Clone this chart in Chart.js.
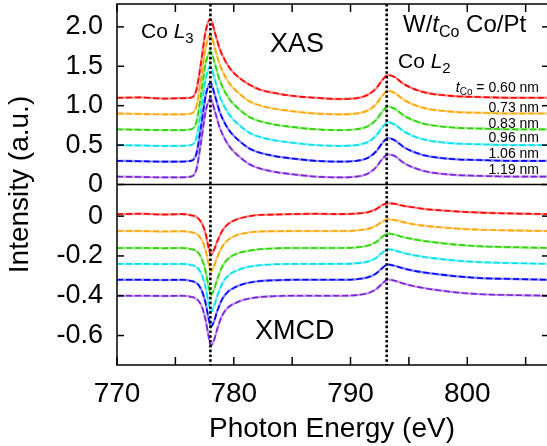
<!DOCTYPE html>
<html><head><meta charset="utf-8">
<script src="https://cdn.jsdelivr.net/npm/chart.js@4.4.0/dist/chart.umd.min.js"></script>
<style>html,body{margin:0;padding:0;overflow:hidden;background:#fff}#wrap{position:relative;width:549px;height:446px}</style>
</head><body><div id="wrap"><canvas id="c"></canvas></div>
<script>
// ---- data ----
const energyXAS = [770, 772, 774, 775.5, 776.3, 776.8, 777.2, 777.6, 778.0, 778.4, 778.8, 779.3, 779.8, 780.5, 781.3, 782.3, 783.5, 785, 787, 789, 790.5, 791.5, 792.2, 792.7, 793.2, 793.8, 794.5, 795.3, 796.3, 797.5, 799, 801, 804, 807];
const energyXMCD = [770, 772, 774, 775.5, 776.3, 776.9, 777.3, 777.6, 777.85, 778.05, 778.3, 778.6, 779.0, 779.5, 780.2, 781.0, 782.0, 783.5, 785, 787, 789, 790.5, 791.5, 792.2, 792.7, 793.2, 793.8, 794.5, 795.3, 796.3, 797.5, 799, 801, 804, 807];

const thicknessLabels = ['0.60', '0.73', '0.83', '0.96', '1.06', '1.19'];

const xas060 = [1.10, 1.105, 1.09, 1.095, 1.10, 1.20, 1.55, 1.95, 2.10, 1.92, 1.72, 1.56, 1.45, 1.35, 1.27, 1.20, 1.16, 1.125, 1.10, 1.085, 1.095, 1.14, 1.22, 1.32, 1.39, 1.36, 1.28, 1.22, 1.17, 1.14, 1.12, 1.11, 1.10, 1.10];
const xas073 = [0.90, 0.895, 0.89, 0.89, 0.90, 0.99, 1.34, 1.74, 1.90, 1.72, 1.52, 1.36, 1.25, 1.15, 1.06, 1.00, 0.96, 0.93, 0.90, 0.89, 0.90, 0.94, 1.02, 1.12, 1.19, 1.16, 1.08, 1.02, 0.97, 0.94, 0.92, 0.91, 0.90, 0.90];
const xas083 = [0.70, 0.695, 0.69, 0.69, 0.70, 0.79, 1.14, 1.54, 1.69, 1.52, 1.32, 1.16, 1.05, 0.95, 0.86, 0.80, 0.76, 0.73, 0.70, 0.69, 0.70, 0.74, 0.82, 0.92, 0.99, 0.96, 0.88, 0.82, 0.77, 0.74, 0.72, 0.71, 0.70, 0.70];
const xas096 = [0.50, 0.495, 0.49, 0.49, 0.50, 0.59, 0.94, 1.34, 1.50, 1.32, 1.12, 0.96, 0.85, 0.75, 0.66, 0.60, 0.56, 0.53, 0.50, 0.49, 0.50, 0.54, 0.62, 0.72, 0.79, 0.76, 0.68, 0.62, 0.57, 0.54, 0.52, 0.51, 0.50, 0.50];
const xas106 = [0.30, 0.295, 0.29, 0.29, 0.30, 0.39, 0.74, 1.13, 1.29, 1.12, 0.92, 0.76, 0.65, 0.55, 0.46, 0.40, 0.36, 0.33, 0.30, 0.29, 0.30, 0.34, 0.42, 0.52, 0.59, 0.56, 0.48, 0.42, 0.37, 0.34, 0.32, 0.31, 0.30, 0.30];
const xas119 = [0.10, 0.095, 0.09, 0.09, 0.10, 0.19, 0.54, 0.93, 1.09, 0.92, 0.72, 0.56, 0.45, 0.35, 0.26, 0.20, 0.16, 0.13, 0.10, 0.09, 0.10, 0.14, 0.22, 0.32, 0.38, 0.36, 0.28, 0.22, 0.17, 0.14, 0.12, 0.11, 0.10, 0.10];

const xmcd060 = [0.01, 0.012, 0.008, 0.01, 0.005, -0.008, -0.04, -0.09, -0.16, -0.195, -0.17, -0.125, -0.075, -0.04, -0.018, -0.004, 0.005, 0.008, 0.01, 0.012, 0.01, 0.013, 0.02, 0.035, 0.055, 0.065, 0.062, 0.052, 0.045, 0.036, 0.03, 0.024, 0.018, 0.013, 0.01];
const xmcd073 = [-0.075, -0.075, -0.077, -0.076, -0.08, -0.093, -0.125, -0.175, -0.24, -0.275, -0.252, -0.205, -0.155, -0.12, -0.097, -0.085, -0.078, -0.076, -0.075, -0.075, -0.075, -0.072, -0.064, -0.048, -0.028, -0.015, -0.02, -0.03, -0.04, -0.048, -0.055, -0.062, -0.068, -0.072, -0.075];
const xmcd083 = [-0.16, -0.16, -0.161, -0.16, -0.165, -0.18, -0.22, -0.28, -0.355, -0.395, -0.37, -0.315, -0.255, -0.215, -0.19, -0.177, -0.168, -0.162, -0.16, -0.16, -0.16, -0.157, -0.148, -0.13, -0.105, -0.087, -0.093, -0.105, -0.115, -0.125, -0.134, -0.143, -0.151, -0.156, -0.16];
const xmcd096 = [-0.24, -0.24, -0.241, -0.24, -0.245, -0.26, -0.30, -0.36, -0.44, -0.48, -0.455, -0.40, -0.34, -0.30, -0.275, -0.258, -0.248, -0.242, -0.24, -0.24, -0.24, -0.237, -0.228, -0.21, -0.185, -0.166, -0.172, -0.185, -0.195, -0.205, -0.214, -0.223, -0.231, -0.236, -0.24];
const xmcd106 = [-0.32, -0.32, -0.321, -0.32, -0.325, -0.34, -0.38, -0.44, -0.515, -0.556, -0.53, -0.475, -0.418, -0.38, -0.355, -0.338, -0.328, -0.322, -0.32, -0.32, -0.32, -0.317, -0.307, -0.288, -0.262, -0.243, -0.25, -0.262, -0.273, -0.283, -0.292, -0.302, -0.311, -0.316, -0.32];
const xmcd119 = [-0.40, -0.40, -0.401, -0.40, -0.405, -0.42, -0.46, -0.525, -0.605, -0.65, -0.625, -0.565, -0.50, -0.46, -0.435, -0.418, -0.408, -0.402, -0.40, -0.40, -0.40, -0.397, -0.387, -0.367, -0.34, -0.318, -0.325, -0.338, -0.35, -0.362, -0.372, -0.383, -0.392, -0.397, -0.40];

const edgeEnergies = [778.0, 793.1];          // Co L3, L2 dotted lines
const xMinorTicks = [770, 775, 780, 785, 790, 795, 800, 805];
const xTickLabels = [770, 780, 790, 800];
const yTopTicks = [0, 0.5, 1.0, 1.5, 2.0];
const yBotTicks = [0, -0.2, -0.4, -0.6];

const xasSeries = [xas060, xas073, xas083, xas096, xas106, xas119];
const xmcdSeries = [xmcd060, xmcd073, xmcd083, xmcd096, xmcd106, xmcd119];
const seriesColors = ['#ff0000', '#ffa500', '#2ad400', '#00e1f0', '#0000ff', '#7b22d8'];
const seriesLight = ['rgba(255,0,0,0.45)', 'rgba(255,165,0,0.45)', 'rgba(42,212,0,0.45)', 'rgba(0,225,240,0.45)', 'rgba(0,0,255,0.45)', 'rgba(123,34,216,0.45)'];

// ---- build ----
const FONT = "'Liberation Sans', Arial, Helvetica, sans-serif";
const datasets = [];
function pts(xs, ys) { return xs.map((e, k) => ({x: e, y: ys[k]})); }
for (let i = 0; i < 6; i++) {
  const common = {pointRadius: 0, fill: false, cubicInterpolationMode: 'monotone'};
  datasets.push(Object.assign({data: pts(energyXAS, xasSeries[i]), yAxisID: 'yTop', borderColor: seriesLight[i], borderWidth: 2.4, order: 2}, common));
  datasets.push(Object.assign({data: pts(energyXAS, xasSeries[i]), yAxisID: 'yTop', borderColor: seriesColors[i], borderWidth: 1.6, borderDash: [6, 3], order: 1}, common));
  datasets.push(Object.assign({data: pts(energyXMCD, xmcdSeries[i]), yAxisID: 'yBot', borderColor: seriesLight[i], borderWidth: 2.4, order: 2}, common));
  datasets.push(Object.assign({data: pts(energyXMCD, xmcdSeries[i]), yAxisID: 'yBot', borderColor: seriesColors[i], borderWidth: 1.6, borderDash: [6, 3], order: 1}, common));
}

function fmtY(v) { return Math.abs(v) < 1e-9 ? '0' : v.toFixed(1); }

function rich(ctx, x, y, segs, align) {
  let w = 0;
  segs.forEach(s => { ctx.font = (s[2] || '') + ' ' + s[1] + 'px ' + FONT; w += ctx.measureText(s[0]).width; });
  let cx = align === 'right' ? x - w : x;
  ctx.textAlign = 'left';
  ctx.textBaseline = 'alphabetic';
  segs.forEach(s => {
    ctx.font = (s[2] || '') + ' ' + s[1] + 'px ' + FONT;
    ctx.fillText(s[0], cx, y + (s[3] || 0));
    cx += ctx.measureText(s[0]).width;
  });
}

const decor = {
  id: 'decor',
  afterDatasetsDraw(chart) {
    const {ctx, chartArea: a, scales} = chart;
    const x = scales.x, yT = scales.yTop, yB = scales.yBot;
    const line = (x1, y1, x2, y2) => { ctx.beginPath(); ctx.moveTo(x1, y1); ctx.lineTo(x2, y2); ctx.stroke(); };
    ctx.save();
    ctx.strokeStyle = '#000';
    ctx.lineWidth = 2.6;
    ctx.setLineDash([2.6, 2.2]);
    edgeEnergies.forEach(e => { const px = x.getPixelForValue(e); line(px, a.top, px, a.bottom); });
    ctx.setLineDash([]);
    ctx.lineWidth = 1.5;
    ctx.strokeRect(a.left, a.top, a.right - a.left, a.bottom - a.top);
    line(a.left, yT.bottom, a.right, yT.bottom);
    x.ticks.forEach(t => { const px = x.getPixelForValue(t.value); line(px, a.bottom, px, a.bottom - 8); line(px, a.top, px, a.top + 8); });
    [yT, yB].forEach(s => s.ticks.forEach(t => { const py = s.getPixelForValue(t.value); line(a.left, py, a.left + 7, py); line(a.right, py, a.right - 7, py); }));

    ctx.fillStyle = '#000';
    rich(ctx, 141, 38, [['Co ', 21], ['L', 21, 'italic'], ['3', 15, '', 5]]);
    rich(ctx, 270, 52, [['XAS', 27]]);
    rich(ctx, 403, 32, [['W/', 24], ['t', 24, 'italic'], ['Co', 16, '', 5], [' Co/Pt', 24]]);
    rich(ctx, 398, 68, [['Co ', 21], ['L', 21, 'italic'], ['2', 15, '', 5]]);
    rich(ctx, 255, 339, [['XMCD', 27]]);
    const labelBase = [92, 112, 128, 142, 158, 174];
    thicknessLabels.forEach((t, i) => {
      if (i === 0) rich(ctx, 539, labelBase[i], [['t', 14, 'italic'], ['Co', 10, '', 3], [' = ' + t + ' nm', 14]], 'right');
      else rich(ctx, 539, labelBase[i], [[t + ' nm', 14]], 'right');
    });
    ctx.font = '28px ' + FONT;
    ctx.textAlign = 'center';
    ctx.fillText('Photon Energy (eV)', (a.left + 547) / 2, 437);
    ctx.translate(28, (a.top + a.bottom) / 2);
    ctx.rotate(-Math.PI / 2);
    ctx.fillText('Intensity (a.u.)', 0, 0);
    ctx.restore();
  }
};

const noPad = s => { s.paddingTop = 0; s.paddingBottom = 0; s.paddingLeft = 0; s.paddingRight = 0; };

new Chart(document.getElementById('c'), {
  type: 'line',
  data: {datasets},
  options: {
    responsive: true, maintainAspectRatio: false, animation: false, devicePixelRatio: 1,
    layout: {padding: {top: 4, right: 0, left: 0, bottom: 0}},
    plugins: {legend: {display: false}, tooltip: {enabled: false}},
    scales: {
      x: {
        type: 'linear', position: 'bottom', min: 770, max: 807.0,
        afterBuildTicks: s => { s.ticks = xMinorTicks.map(v => ({value: v})); },
        afterFit: s => { s.height = 81; noPad(s); },
        ticks: {autoSkip: false, maxRotation: 0, padding: 4, color: '#000', font: {size: 28, family: FONT},
          callback: v => xTickLabels.includes(v) ? String(v) : ''},
        grid: {display: false}, border: {display: false}
      },
      yBot: {
        type: 'linear', position: 'left', stack: 'panels', stackWeight: 1, min: -0.748, max: 0.159,
        afterBuildTicks: s => { s.ticks = yBotTicks.map(v => ({value: v})); },
        afterFit: s => { s.width = 117; noPad(s); },
        ticks: {autoSkip: false, padding: 6, color: '#000', font: {size: 27, family: FONT}, callback: v => fmtY(v)},
        grid: {display: false}, border: {display: false}
      },
      yTop: {
        type: 'linear', position: 'left', stack: 'panels', stackWeight: 1, min: 0, max: 2.29,
        afterBuildTicks: s => { s.ticks = yTopTicks.map(v => ({value: v})); },
        afterFit: s => { s.width = 117; noPad(s); },
        ticks: {autoSkip: false, padding: 6, color: '#000', font: {size: 27, family: FONT}, callback: v => fmtY(v)},
        grid: {display: false}, border: {display: false}
      }
    }
  },
  plugins: [decor]
});
</script></body></html>
